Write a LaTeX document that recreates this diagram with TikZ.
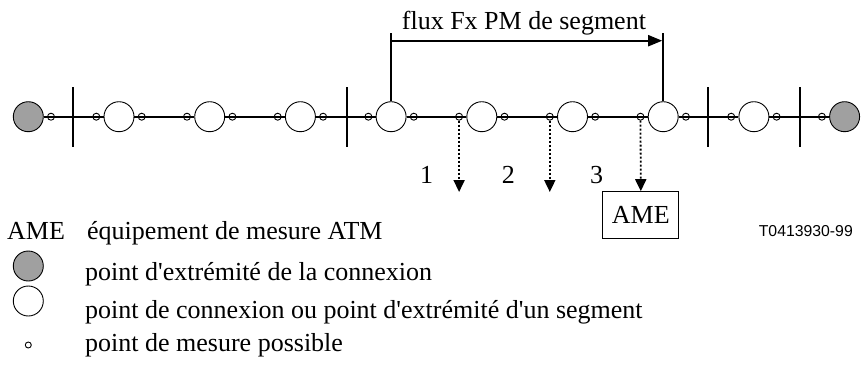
\documentclass[tikz,border=0pt]{standalone}
\usepackage{fontspec}
\setmainfont{Liberation Serif}[Ligatures=TeXOff]
\newfontfamily\sansf{Liberation Sans}
\usetikzlibrary{arrows.meta}
\definecolor{endgray}{RGB}{160,160,160}
\begin{document}
\begin{tikzpicture}[x=1pt,y=-1pt,
  big/.style={circle,draw,line width=0.9pt,minimum size=30pt,inner sep=0pt,fill=white},
  endpt/.style={big,fill=endgray},
  mpt/.style={circle,draw,line width=0.9pt,minimum size=7pt,inner sep=0pt},
  wire/.style={line width=2pt},
  barline/.style={line width=2pt},
  probe/.style={line width=1.8pt,dash pattern=on 2pt off 2pt,-{Triangle[length=12pt,width=11pt]}},
  lbl/.style={font=\fontsize{26}{30}\selectfont,inner sep=0pt},
  leg/.style={lbl,anchor=base west},
]
\useasboundingbox (0,0) rectangle (862,368);
% main chain
\node[endpt] (n0) at (28.3,116.7) {};
\foreach \i in {1,...,8} \node[big] (n\i) at ({28.3+90.7*\i},116.7) {};
\node[endpt] (n9) at (844.6,116.7) {};
\foreach \i [evaluate=\i as \j using int(\i+1)] in {0,...,8}
  \draw[wire] (n\i.east) -- (n\j.west);
\foreach \i in {0,...,8} \node[mpt] (r\i) at ([xshift=22.7pt]n\i.center) {};
\foreach \i in {1,...,9} \node[mpt] (l\i) at ([xshift=-22.7pt]n\i.center) {};
% boundary bars
\foreach \x in {73.3,346.7,708.3,800} \draw[barline] (\x,87.3) -- (\x,147.3);
% segment flow bracket
\draw[wire] (n4.north) -- (n4 |- 0,33);
\draw[wire] (n7.north) -- (n7 |- 0,33);
\draw[wire,-{Triangle[length=14pt,width=11pt]}] (n4 |- 0,40.7) -- ([xshift=-1pt]n7 |- 0,40.7);
\node[lbl,anchor=base west] (flux) at (401.7,29) {flux Fx PM de segment};
% probes
\node[lbl,draw,line width=1pt,minimum width=76pt,minimum height=46.6pt] (ame) at (640.8,215) {AME};
\draw[probe] (l5.south) -- (l5 |- 0,192);
\draw[probe] (l6.south) -- (l6 |- 0,192);
\draw[probe] (l7.south) -- (ame.north);
\node[lbl] (k1) at (426.7,175) {1};
\node[lbl] (k2) at (508.3,175) {2};
\node[lbl] (k3) at (596.7,175) {3};
% legend
\node[leg] (ameL) at (7,239) {AME};
\node[leg] (d1) at (87,239) {équipement de mesure ATM};
\node[endpt] (s1) at (28.3,266) {};
\node[leg] (d2) at (85,280) {point d'extrémité de la connexion};
\node[big] (s2) at (28.3,301) {};
\node[leg] (d3) at (85,318) {point de connexion ou point d'extrémité d'un segment};
\node[mpt,minimum size=6pt] (s3) at (28.3,345) {};
\node[leg] (d4) at (85,351) {point de mesure possible};
\node[font=\sansf\fontsize{15.8}{18}\selectfont,anchor=east,inner sep=0pt] (tid) at (853,231) {T0413930-99};
\end{tikzpicture}
\end{document}
